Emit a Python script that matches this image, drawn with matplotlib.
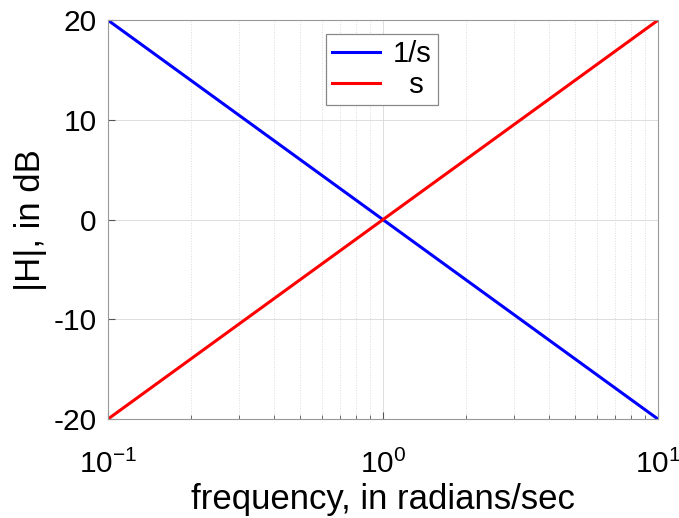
import numpy as np
import matplotlib.pyplot as plt

plt.rcParams['font.family'] = ['Liberation Sans', 'DejaVu Sans']
plt.rcParams['axes.unicode_minus'] = False
plt.rcParams['mathtext.fontset'] = 'custom'
plt.rcParams['mathtext.rm'] = 'Liberation Sans'
plt.rcParams['mathtext.default'] = 'regular'

# data
freq = [0.1, 1.0, 10.0]
mag_inv_s = [20, 0, -20]
mag_s = [-20, 0, 20]

fig = plt.figure(figsize=(6.79, 5.18), dpi=100)
ax = fig.add_axes([0.159, 0.191, 0.81, 0.77])

ax.semilogx(freq, mag_inv_s, color='blue', linewidth=2.2, label='1/s')
ax.semilogx(freq, mag_s, color='red', linewidth=2.2, label='  s')

ax.set_xlim(0.1, 10)
ax.set_ylim(-20, 20)
ax.set_yticks([-20, -10, 0, 10, 20])

ax.grid(which='major', color='#d8d8d8', linestyle='-', linewidth=0.6)
ax.grid(which='minor', color='#dcdcdc', linestyle=':', linewidth=0.7)
ax.tick_params(which='both', direction='in', labelsize=21.5, color='#555555')
ax.tick_params(which='major', length=5)
ax.tick_params(which='minor', length=3)
ax.tick_params(axis='y', pad=8)
ax.tick_params(axis='x', pad=22)
for sp in ax.spines.values():
    sp.set_color('#999999')
    sp.set_linewidth(0.8)

ax.set_xlabel('frequency, in radians/sec', fontsize=25, labelpad=3)
ax.set_ylabel('|H|, in dB', fontsize=25, labelpad=5)

leg = ax.legend(loc='upper center', bbox_to_anchor=(0.498, 0.965), borderaxespad=0,
                fontsize=21, fancybox=False, framealpha=1, edgecolor='#888888',
                handlelength=1.65, borderpad=0.2, labelspacing=0.12,
                handletextpad=0.45)
leg.get_frame().set_linewidth(0.9)

fig.savefig('out.png', dpi=100)
